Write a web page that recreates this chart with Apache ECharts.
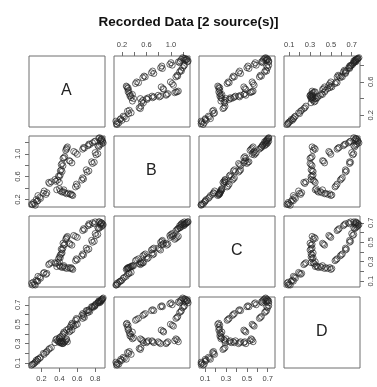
<!DOCTYPE html>
<html>
<head>
<meta charset="utf-8">
<script src="https://cdn.jsdelivr.net/npm/echarts@6/dist/echarts.min.js"></script>
<style>
  html, body { margin: 0; padding: 0; background: #fff; }
  #chart { width: 377px; height: 387px; }
</style>
</head>
<body>
<div id="chart"></div>
<script>
// recorded variables, one value per sample (same order in every array)
const NAMES = ['A', 'B', 'C', 'D'];

const A = [
  0.10, 0.12, 0.09, 0.13, 0.11, 0.15, 0.14, 0.16, 0.18, 0.16, 0.19, 0.22, 0.25, 0.23, 0.26,
  0.29, 0.31, 0.28,
  0.37, 0.40, 0.41, 0.43, 0.44, 0.46, 0.45, 0.48, 0.50, 0.52, 0.53, 0.55, 0.54,
  0.58, 0.60, 0.59, 0.65, 0.67, 0.66, 0.71, 0.73, 0.70, 0.77, 0.79, 0.76, 0.81, 0.83, 0.80,
  0.84, 0.85, 0.87, 0.83,
  0.86, 0.87, 0.85, 0.86, 0.88, 0.89, 0.87, 0.84, 0.88,
  0.79, 0.77, 0.80, 0.74, 0.72, 0.73, 0.68, 0.66, 0.67,
  0.58, 0.60, 0.56, 0.52, 0.54, 0.51,
  0.36, 0.38, 0.40, 0.35, 0.39, 0.41, 0.40, 0.41, 0.42, 0.43, 0.42, 0.44, 0.43,
  0.45, 0.46, 0.44, 0.47, 0.48, 0.49, 0.48
];
const B = [
  0.11, 0.13, 0.12, 0.10, 0.15, 0.17, 0.20, 0.18, 0.24, 0.27, 0.22, 0.31, 0.29, 0.35, 0.32,
  0.48, 0.51, 0.50,
  0.37, 0.39, 0.35, 0.33, 0.34, 0.32, 0.37, 0.30, 0.31, 0.29, 0.30, 0.27, 0.28,
  0.42, 0.44, 0.47, 0.54, 0.56, 0.58, 0.68, 0.70, 0.72, 0.83, 0.85, 0.86, 0.98, 1.00, 1.02,
  1.12, 1.15, 1.17, 1.14,
  1.24, 1.26, 1.28, 1.22, 1.21, 1.19, 1.25, 1.27, 1.23,
  1.21, 1.19, 1.22, 1.16, 1.14, 1.17, 1.10, 1.08, 1.11,
  1.02, 0.99, 1.04, 0.87, 0.84, 0.88,
  0.52, 0.54, 0.50, 0.55, 0.61, 0.63, 0.60, 0.70, 0.72, 0.69, 0.81, 0.79, 0.83,
  0.93, 0.95, 0.92, 1.06, 1.10, 1.12, 1.08
];
const C = [
  0.06, 0.07, 0.08, 0.06, 0.09, 0.10, 0.11, 0.10, 0.14, 0.15, 0.13, 0.18, 0.17, 0.19, 0.18,
  0.28, 0.29, 0.27,
  0.25, 0.26, 0.25, 0.24, 0.25, 0.24, 0.26, 0.23, 0.24, 0.23, 0.24, 0.22, 0.23,
  0.31, 0.32, 0.33, 0.36, 0.37, 0.38, 0.42, 0.43, 0.44, 0.50, 0.51, 0.52, 0.57, 0.58, 0.59,
  0.64, 0.65, 0.66, 0.65,
  0.69, 0.70, 0.71, 0.68, 0.67, 0.68, 0.70, 0.71, 0.69,
  0.69, 0.70, 0.71, 0.68, 0.67, 0.69, 0.63, 0.62, 0.64,
  0.56, 0.55, 0.57, 0.48, 0.47, 0.49,
  0.28, 0.29, 0.30, 0.29, 0.33, 0.34, 0.35, 0.37, 0.38, 0.39, 0.43, 0.44, 0.42,
  0.47, 0.48, 0.49, 0.53, 0.55, 0.56, 0.54
];
const D = [
  0.09, 0.10, 0.08, 0.11, 0.09, 0.12, 0.13, 0.14, 0.15, 0.14, 0.16, 0.20, 0.21, 0.19, 0.22,
  0.25, 0.26, 0.24,
  0.35, 0.36, 0.37, 0.38, 0.40, 0.41, 0.42, 0.44, 0.45, 0.47, 0.49, 0.50, 0.51,
  0.54, 0.55, 0.56, 0.59, 0.60, 0.61, 0.64, 0.65, 0.64, 0.68, 0.69, 0.68, 0.71, 0.72, 0.70,
  0.73, 0.74, 0.75, 0.72,
  0.73, 0.74, 0.72, 0.74, 0.76, 0.77, 0.75, 0.74, 0.76,
  0.68, 0.67, 0.69, 0.63, 0.62, 0.64, 0.57, 0.56, 0.58,
  0.49, 0.50, 0.48, 0.43, 0.44, 0.42,
  0.34, 0.33, 0.35, 0.31, 0.32, 0.33, 0.31, 0.32, 0.31, 0.33, 0.31, 0.32, 0.30,
  0.31, 0.32, 0.30, 0.33, 0.34, 0.32, 0.35
];

// axis extents and tick marks per variable
const RANGES = [[0.06, 0.91], [0.07, 1.31], [0.04, 0.77], [0.05, 0.78]];
const TICKS = [
  [0.2, 0.4, 0.6, 0.8],
  [0.2, 0.4, 0.6, 0.8, 1.0, 1.2],
  [0.1, 0.2, 0.3, 0.4, 0.5, 0.6, 0.7],
  [0.1, 0.2, 0.3, 0.4, 0.5, 0.6, 0.7]
];
const X_LABELS = [[0.2, 0.4, 0.6, 0.8], [0.2, 0.6, 1.0], [0.1, 0.3, 0.5, 0.7], [0.1, 0.3, 0.5, 0.7]];
const Y_LABELS = [[0.2, 0.6], [0.2, 0.6, 1.0], [0.1, 0.3, 0.5, 0.7], [0.1, 0.3, 0.5, 0.7]];

const TITLE = 'Recorded Data [2 source(s)]';

// panel layout (pixels)
const COL_X = [29, 114, 199, 284];
const ROW_Y = [56, 136, 216, 297];
const PW = 76, PH = 71;

const FONT = '"Liberation Sans", Arial, Helvetica, sans-serif';
const vars = [A, B, C, D];

const chart = echarts.init(document.getElementById('chart'), null, { renderer: 'canvas' });

const grids = [], xAxes = [], yAxes = [], series = [], graphics = [];
const fmt = (v) => v.toFixed(1);

for (let i = 0; i < 4; i++) {
  for (let j = 0; j < 4; j++) {
    const k = i * 4 + j;
    grids.push({
      left: COL_X[j], top: ROW_Y[i], width: PW, height: PH,
      show: true, borderColor: '#6e6e6e', borderWidth: 1, backgroundColor: 'transparent'
    });

    // R pairs(): axes alternate around the outer edge
    const xTop = i === 0 && j % 2 === 1;
    const xBottom = i === 3 && j % 2 === 0;
    const yLeft = j === 0 && i % 2 === 1;
    const yRight = j === 3 && i % 2 === 0;

    xAxes.push({
      gridIndex: k, type: 'value', min: RANGES[j][0], max: RANGES[j][1],
      position: xTop ? 'top' : 'bottom',
      show: xTop || xBottom,
      axisLine: { show: false },
      splitLine: { show: false },
      axisTick: { show: true, inside: false, length: 4, customValues: TICKS[j], lineStyle: { color: '#6e6e6e', width: 1 } },
      axisLabel: { show: true, customValues: X_LABELS[j], formatter: fmt, margin: 7, fontSize: 7.5, color: '#444', fontFamily: FONT }
    });
    yAxes.push({
      gridIndex: k, type: 'value', min: RANGES[i][0], max: RANGES[i][1],
      position: yRight ? 'right' : 'left',
      show: yLeft || yRight,
      axisLine: { show: false },
      splitLine: { show: false },
      axisTick: { show: true, inside: false, length: 4, customValues: TICKS[i], lineStyle: { color: '#6e6e6e', width: 1 } },
      axisLabel: { show: true, customValues: Y_LABELS[i], formatter: fmt, rotate: 90, margin: 7, fontSize: 7.5, color: '#444', fontFamily: FONT }
    });

    if (i === j) {
      graphics.push({
        type: 'text',
        left: COL_X[j] + PW / 2 - 6, top: ROW_Y[i] + PH / 2 - 9,
        style: { text: NAMES[i], font: '16px ' + FONT, fill: '#222' }
      });
    } else {
      const xs = vars[j], ys = vars[i];
      series.push({
        type: 'scatter',
        xAxisIndex: k, yAxisIndex: k,
        data: xs.map((v, n) => [v, ys[n]]),
        symbol: 'circle',
        symbolSize: 6,
        itemStyle: { color: 'rgba(255,255,255,0)', borderColor: '#222', borderWidth: 0.8, opacity: 0.85 },
        emphasis: { disabled: true },
        silent: true,
        animation: false
      });
    }
  }
}

chart.setOption({
  animation: false,
  backgroundColor: '#fff',
  title: {
    text: TITLE, left: 'center', top: 10,
    textStyle: { fontSize: 13.5, fontWeight: 'bold', color: '#111', fontFamily: FONT }
  },
  grid: grids,
  xAxis: xAxes,
  yAxis: yAxes,
  series: series,
  graphic: graphics
});
</script>
</body>
</html>
